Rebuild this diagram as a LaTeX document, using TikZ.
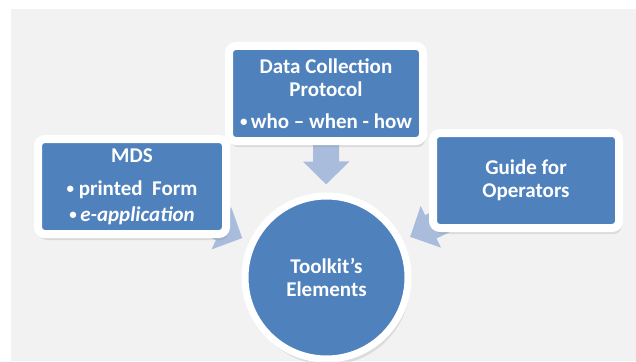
\documentclass[tikz,border=0pt]{standalone}
\usepackage{fontspec}
\setmainfont{Carlito}
\usetikzlibrary{arrows.meta, shadows}

\definecolor{boxblue}{HTML}{4F81BD}
\definecolor{arrowblue}{HTML}{A9BCDC}
\definecolor{bggray}{HTML}{F2F2F2}
\pgfdeclarelayer{bg}
\pgfdeclarelayer{arrows}
\pgfsetlayers{bg,arrows,main}
\newcommand{\itembul}{\raisebox{1.5pt}{\fontsize{15}{15}\selectfont\textbullet}}

\begin{document}
\begin{tikzpicture}[x=1pt, y=-1pt,
  box/.style={draw=white, fill=boxblue, line width=8pt, rounded corners=7pt,
    text=white, font=\fontsize{21}{23}\selectfont\bfseries, align=center,
    minimum height=95pt, inner sep=0pt,
    drop shadow={opacity=.2, shadow xshift=2pt, shadow yshift=-6pt}},
  hub/.style={box, circle, minimum size=163pt, line width=7pt},
  conn/.style={arrowblue, line width=26pt, shorten >=8pt,
    -{Triangle[width=45pt, length=23pt]}}]
  \useasboundingbox (0,0) rectangle (636,361);
  \begin{pgfonlayer}{bg}
    \fill[bggray] (11,9) rectangle (636,361);
  \end{pgfonlayer}

  \node (dcp) [box, minimum width=194pt] at (326,93.5)
    {Data Collection\\Protocol\\[9pt]\itembul\,who \textendash{} when - how};
  \node (mds) [box, minimum width=188pt] at (132,186.5)
    {MDS\\[10pt]\itembul\ printed~~Form\\[3pt]\itembul\,\textit{e-application}};
  \node (guide) [box, minimum width=186pt] at (526,180.5)
    {Guide for\\Operators};
  \node (elem) [hub] at (326.5,277.5) {Toolkit’s\\Elements};

  % arrows run behind the boxes
  \begin{pgfonlayer}{arrows}
    \foreach \n in {mds, dcp, guide}
      \draw[conn] (\n.center) -- (elem);
  \end{pgfonlayer}
\end{tikzpicture}
\end{document}
